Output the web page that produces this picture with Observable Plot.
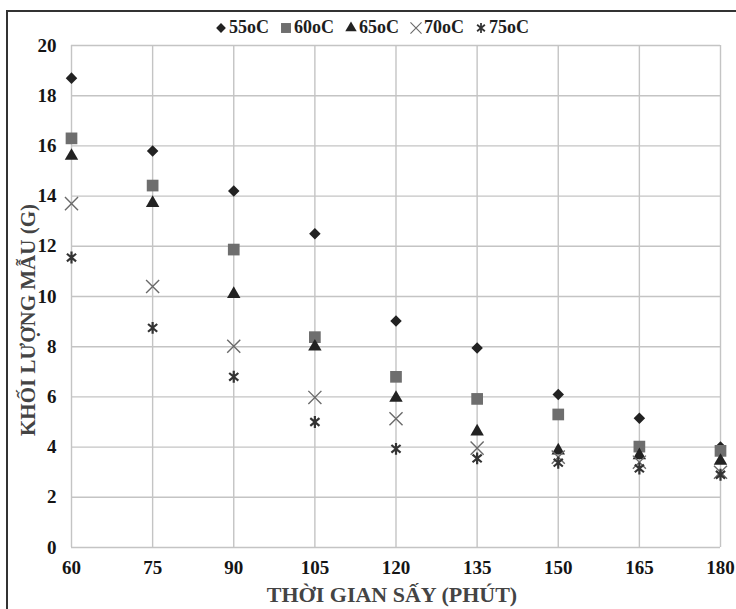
<!DOCTYPE html>
<html><head><meta charset="utf-8">
<script src="https://cdn.jsdelivr.net/npm/d3@7"></script>
<script src="https://cdn.jsdelivr.net/npm/@observablehq/plot@0.6"></script>
<style>
body{margin:0;background:#fff;}
#wrap{position:relative;width:736px;height:609px;overflow:hidden;background:#fff;}
#legend{position:absolute;top:17px;left:0;width:736px;display:flex;justify-content:center;gap:11px;font-family:"Liberation Serif",serif;font-weight:bold;font-size:18px;color:#1e1e1e;transform:translateX(4px);}
#legend span.item{display:flex;align-items:center;gap:2px;}
#legend svg{overflow:visible}
#chart{position:absolute;top:0;left:0;}
</style></head>
<body><div id="wrap"><div id="chart"></div><div id="legend"></div></div>
<script>
const times = [60, 75, 90, 105, 120, 135, 150, 165, 180];
const s55 = [18.7, 15.8, 14.2, 12.5, 9.02, 7.95, 6.1, 5.15, 4.0];
const s60 = [16.3, 14.42, 11.87, 8.38, 6.8, 5.92, 5.3, 4.02, 3.85];
const s65 = [15.6, 13.72, 10.1, 8.0, 5.96, 4.62, 3.86, 3.67, 3.45];
const s70 = [13.7, 10.4, 8.02, 5.98, 5.13, 3.96, 3.6, 3.4, 3.0];
const s75 = [11.55, 8.75, 6.8, 5.0, 3.93, 3.55, 3.38, 3.15, 2.9];
const seriesNames = ["55oC", "60oC", "65oC", "70oC", "75oC"];
const yTicks = [0, 2, 4, 6, 8, 10, 12, 14, 16, 18, 20];
const xTicks = times;

const asterisk6 = {
  draw(ctx, size) {
    const r = Math.sqrt(size / Math.PI) * 1.15;
    [90, 40, 140].forEach(a => {
      const t = a * Math.PI / 180;
      ctx.moveTo(-r * Math.cos(t), -r * Math.sin(t));
      ctx.lineTo(r * Math.cos(t), r * Math.sin(t));
    });
  }
};
const rhombus = {
  draw(ctx, size) {
    const r = Math.sqrt(size / 2);
    ctx.moveTo(0, -r); ctx.lineTo(r, 0); ctx.lineTo(0, r); ctx.lineTo(-r, 0); ctx.closePath();
  }
};

const styles = [
  {data: s55, symbol: rhombus, r: 4.6, fill: "#222", stroke: "none"},
  {data: s60, symbol: "square", r: 6.6, fill: "#6e6e6e", stroke: "none"},
  {data: s65, symbol: "triangle", r: 5.0, fill: "#222", stroke: "none"},
  {data: s70, symbol: "times", r: 6.0, fill: "none", stroke: "#6a6a6a", strokeWidth: 1.4},
  {data: s75, symbol: asterisk6, r: 5.2, fill: "none", stroke: "#333", strokeWidth: 2.2}
];

const tables = styles.map((s, i) => times.map((t, j) => ({t, v: s.data[j], name: seriesNames[i]})));

const plot = Plot.plot({
  width: 736,
  height: 609,
  marginLeft: 71,
  marginRight: 16,
  marginTop: 45,
  marginBottom: 62,
  style: {fontFamily: "Liberation Serif, serif", background: "transparent"},
  x: {domain: [60, 180]},
  y: {domain: [0, 20]},
  marks: [
    Plot.gridX(xTicks, {stroke: "#c4c4c4", strokeOpacity: 1, strokeWidth: 1.4}),
    Plot.gridY(yTicks, {stroke: "#c4c4c4", strokeOpacity: 1, strokeWidth: 1.4}),
    Plot.axisX(xTicks, {tickSize: 0, tickPadding: 13, fontSize: 19, fill: "#151515", label: null}),
    Plot.axisY(yTicks, {tickSize: 0, tickPadding: 15, fontSize: 19, fill: "#151515", label: null}),
    ...styles.map((s, i) => Plot.dot(tables[i], {
      x: "t", y: "v", symbol: s.symbol, r: s.r, fill: s.fill, stroke: s.stroke,
      strokeWidth: s.strokeWidth || 1
    }))
  ]
});
document.getElementById("chart").appendChild(plot);

const svg = d3.select(plot);
svg.selectAll('g[aria-label="x-axis tick label"] text, g[aria-label="y-axis tick label"] text')
  .attr("font-weight", "bold").style("font-weight", "bold");
svg.selectAll('g[aria-label="x-axis tick label"], g[aria-label="y-axis tick label"]')
  .attr("font-weight", "bold");
// outer frame (left and top edges visible)
svg.append("path").attr("d", "M7,609V11H736").attr("fill", "none").attr("stroke", "#333").attr("stroke-width", 2);
svg.append("text").attr("x", 392).attr("y", 602)
  .attr("text-anchor", "middle").attr("font-family", "Liberation Serif, serif")
  .attr("font-weight", "bold").attr("font-size", 22).attr("fill", "#444")
  .text("THỜI GIAN SẤY (PHÚT)");
svg.append("text").attr("transform", "translate(35,320) rotate(-90)")
  .attr("text-anchor", "middle").attr("font-family", "Liberation Serif, serif")
  .attr("font-weight", "bold").attr("font-size", 21).attr("fill", "#444")
  .text("KHỐI LƯỢNG MẪU (G)");

// legend
const legend = d3.select("#legend");
styles.forEach((s, i) => {
  const item = legend.append("span").attr("class", "item");
  const sv = item.append("svg").attr("width", 12).attr("height", 14).attr("viewBox", "-6 -7 12 14");
  const sym = typeof s.symbol === "string"
    ? {square: d3.symbolSquare, triangle: d3.symbolTriangle, times: d3.symbolTimes}[s.symbol]
    : s.symbol;
  const rr = s.r * 0.85;
  sv.append("path").attr("d", d3.symbol(sym, Math.PI * rr * rr)())
    .attr("fill", s.fill).attr("stroke", s.stroke).attr("stroke-width", (s.strokeWidth || 1) * 0.8);
  item.append("span").text(seriesNames[i]);
});
</script>
</body></html>
